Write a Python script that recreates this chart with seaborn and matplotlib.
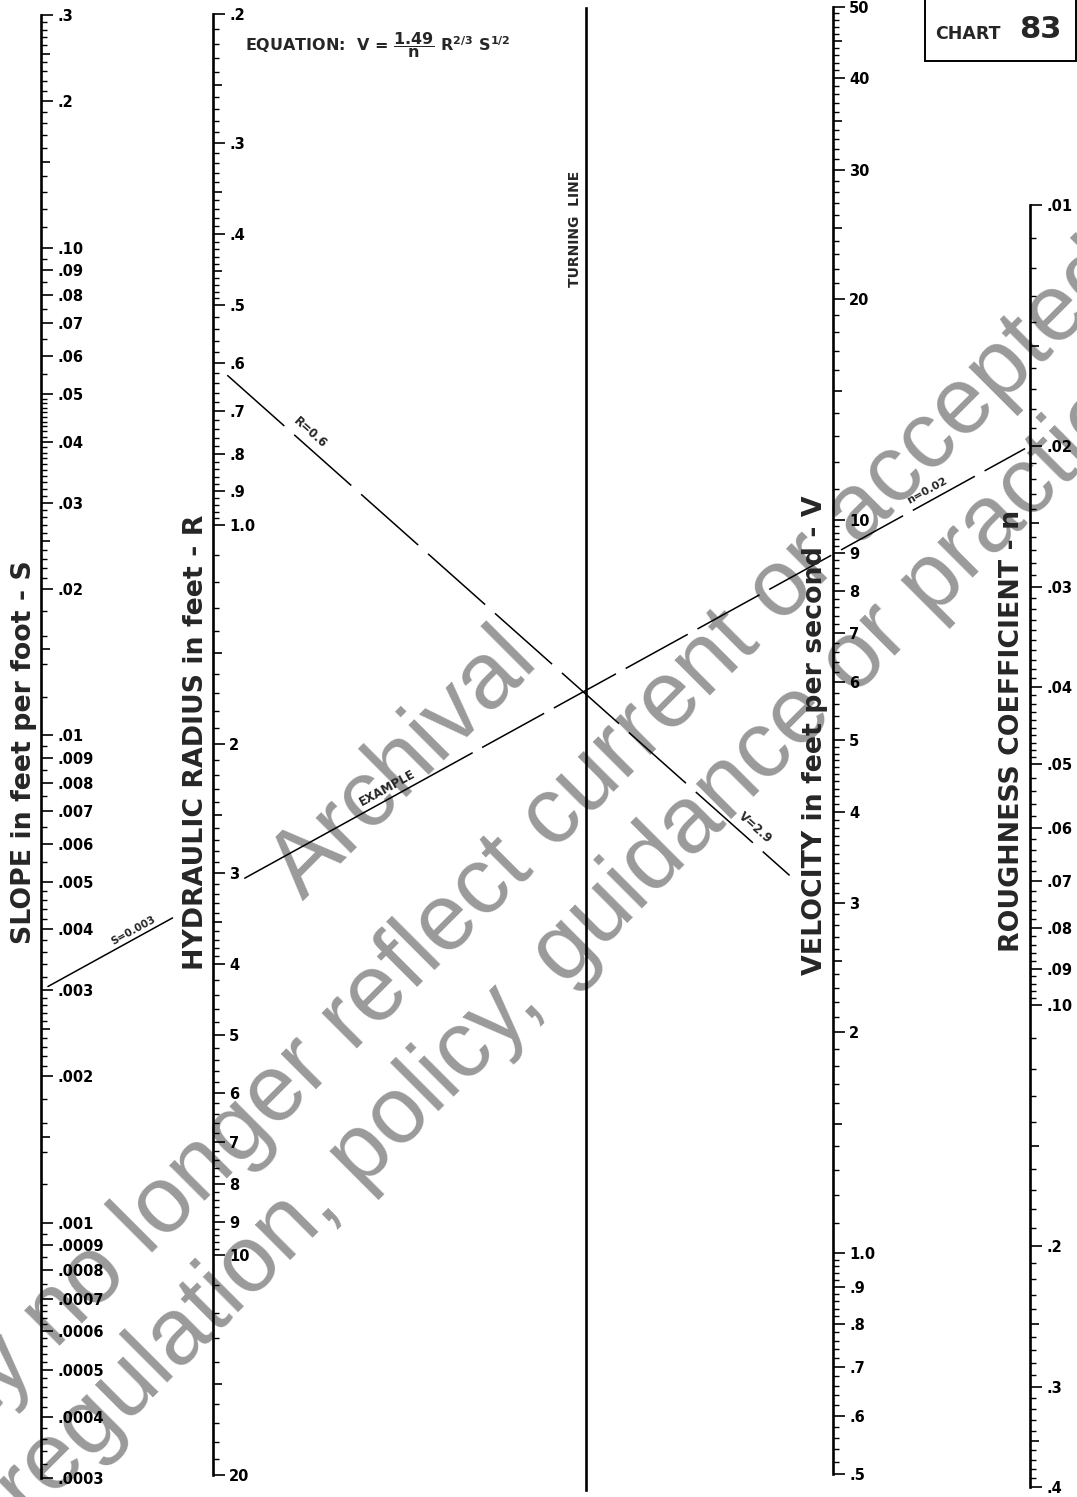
import numpy as np
import matplotlib
matplotlib.use("Agg")
import matplotlib.pyplot as plt
import matplotlib.transforms as mtransforms
from matplotlib.patches import Rectangle
from matplotlib.ticker import NullFormatter
import seaborn as sns

W, H = 1077, 1497

# ---- scale values ------------------------------------------------------
slope_values = [.3, .2, .1, .09, .08, .07, .06, .05, .04, .03, .02, .01,
                .009, .008, .007, .006, .005, .004, .003, .002,
                .001, .0009, .0008, .0007, .0006, .0005, .0004, .0003]
slope_labels = [".3", ".2", ".10", ".09", ".08", ".07", ".06", ".05", ".04", ".03", ".02", ".01",
                ".009", ".008", ".007", ".006", ".005", ".004", ".003", ".002",
                ".001", ".0009", ".0008", ".0007", ".0006", ".0005", ".0004", ".0003"]
slope_mid = [.25, .15, .025, .015, .0025, .0015]
slope_minor = [(.1, .3, .01), (.05, .1, .005), (.02, .05, .001), (.01, .02, .002),
               (.005, .01, .0005), (.003, .005, .0002), (.002, .003, .0001),
               (.001, .002, .0002), (.0007, .001, .00005), (.0003, .0007, .00002)]

radius_values = [.2, .3, .4, .5, .6, .7, .8, .9, 1, 2, 3, 4, 5, 6, 7, 8, 9, 10, 20]
radius_labels = [".2", ".3", ".4", ".5", ".6", ".7", ".8", ".9", "1.0",
                 "2", "3", "4", "5", "6", "7", "8", "9", "10", "20"]
radius_mid = [.25, .35, .45, 1.5, 2.5, 3.5, 15]
radius_minor = [(.2, .5, .01), (.5, 1, .02), (1, 3, .1), (3, 4, .1), (4, 10, .2), (10, 20, 1)]

velocity_values = [50, 40, 30, 20, 10, 9, 8, 7, 6, 5, 4, 3, 2, 1, .9, .8, .7, .6, .5]
velocity_labels = ["50", "40", "30", "20", "10", "9", "8", "7", "6", "5", "4", "3", "2",
                   "1.0", ".9", ".8", ".7", ".6", ".5"]
velocity_mid = [45, 35, 25, 15, 2.5, 1.5]
velocity_minor = [(20, 50, 1), (10, 20, 1), (5, 10, .2), (2, 5, .1), (1, 2, .1), (.5, 1, .02)]

rough_values = [.01, .02, .03, .04, .05, .06, .07, .08, .09, .1, .2, .3, .4]
rough_labels = [".01", ".02", ".03", ".04", ".05", ".06", ".07", ".08", ".09", ".10",
                ".2", ".3", ".4"]
rough_mid = [.015, .025, .15, .25, .35]
rough_minor = [(.01, .05, .001), (.05, .1, .002), (.1, .4, .01)]

# worked example
example_S = 0.003
example_n = 0.02
example_R = 0.6
example_V = 2.9

# ---- figure ------------------------------------------------------------
sns.set_theme(style="white")
plt.rcParams["font.family"] = ["DejaVu Sans"]
plt.rcParams["font.weight"] = "bold"
plt.rcParams["mathtext.fontset"] = "dejavusans"
plt.rcParams["mathtext.default"] = "bf"
plt.rcParams["lines.scale_dashes"] = False

fig = plt.figure(figsize=(W / 100, H / 100), dpi=100, facecolor="white")

# pixel canvas for free-standing lines and text
ax0 = fig.add_axes([0, 0, 1, 1])
ax0.set_xlim(0, W)
ax0.set_ylim(H, 0)
ax0.axis("off")


def make_scale(x, y_top, y_bot, lim, values=None, labels=None, mids=(), minor_segs=()):
    ax = fig.add_axes([(x - 1) / W, 1 - y_bot / H, 1 / W, (y_bot - y_top) / H])
    ax.patch.set_alpha(0)
    ax.set_yscale("log")
    ax.set_xlim(0, 1)
    ax.set_ylim(*lim)
    for s in ["left", "top", "bottom"]:
        ax.spines[s].set_visible(False)
    ax.spines["right"].set_linewidth(1.9)
    ax.spines["right"].set_color("black")
    ax.set_xticks([])
    ax.yaxis.tick_right()
    if values is None:
        ax.set_yticks([])
        ax.set_yticks([], minor=True)
        return ax
    ax.set_yticks(list(values) + list(mids), labels=list(labels) + [""] * len(mids))
    minor = np.concatenate([np.arange(a, b, s) for a, b, s in minor_segs])
    ax.set_yticks(minor, minor=True)
    ax.yaxis.set_minor_formatter(NullFormatter())
    ax.tick_params(axis="y", which="major", length=8.6, width=1.2, pad=3,
                   labelsize=10.5, colors="black")
    ax.tick_params(axis="y", which="minor", length=4.3, width=1.0, colors="black")
    for t in ax.yaxis.get_major_ticks()[len(values):]:
        t.tick2line.set_markersize(6.5)
    return ax


ax_s = make_scale(41, 15, 1478, (.0003, .3), slope_values, slope_labels, slope_mid, slope_minor)
ax_r = make_scale(213, 14, 1475, (20, .2), radius_values, radius_labels, radius_mid, radius_minor)
ax_t = make_scale(586, 8, 1490, (1, 10))
ax_v = make_scale(833, 7, 1474, (.5, 50), velocity_values, velocity_labels, velocity_mid, velocity_minor)
ax_n = make_scale(1030, 205, 1487, (.4, .01), rough_values, rough_labels, rough_mid, rough_minor)


def point(ax, value):
    tr = mtransforms.blended_transform_factory(ax.transAxes, ax.transData)
    disp = tr.transform((1, value))
    return ax0.transData.inverted().transform(disp)


def draw_part(p, q, t0, t1, ls):
    a = p + (q - p) * t0
    b = p + (q - p) * t1
    sns.lineplot(x=[a[0], b[0]], y=[a[1], b[1]], ax=ax0, color="black",
                 lw=1.1, linestyle=ls, sort=False, zorder=3)


def line_label(p, q, t, off, text, size):
    d = (q - p) / np.hypot(*(q - p))
    c = p + (q - p) * t + np.array([d[1], -d[0]]) * off
    ang = np.degrees(np.arctan2(-d[1], d[0]))
    ax0.text(c[0], c[1], text, rotation=ang, rotation_mode="anchor",
             ha="center", va="center", fontsize=size, zorder=3)


# S - n line through the turning line
pS = point(ax_s, example_S)
pN = point(ax_n, example_n)
dash_a = (0, (51, 8))
draw_part(pS, pN, 0.007, 0.133, "-")
draw_part(pS, pN, 0.206, 0.436, "-")
draw_part(pS, pN, 0.446, 0.995, dash_a)
line_label(pS, pN, 0.097, 8, "S=0.003", 7.5)
line_label(pS, pN, 0.355, 10, "EXAMPLE", 8.5)
line_label(pS, pN, 0.901, 10, "n=0.02", 8)

# R - V line through the turning point
pR = point(ax_r, example_R)
pV = point(ax_v, example_V)
dash_b = (0, (55, 9.5))
draw_part(pR, pV, 0.023, 0.93, dash_b)
line_label(pR, pV, 0.1435, 12, "R=0.6", 8.5)
line_label(pR, pV, 0.861, 13, "V=2.9", 8.5)

# scale titles
titles = [("SLOPE in feet per foot - S", 24, 752),
          ("HYDRAULIC RADIUS in feet - R", 196, 742),
          ("VELOCITY in feet per second - V", 815, 735),
          ("ROUGHNESS COEFFICIENT - n", 1012, 731)]
for txt, x, y in titles:
    ax0.text(x, y, txt, rotation=90, ha="center", va="center", fontsize=19.3, zorder=3)
ax0.text(575, 229, "TURNING  LINE", rotation=90, ha="center", va="center", fontsize=10, zorder=3)

# equation and chart number
ax0.text(245, 45, r"EQUATION:  V = $\dfrac{1.49}{n}$ R$^{2/3}$ S$^{1/2}$",
         ha="left", va="center", fontsize=11.5, zorder=3)
ax0.add_patch(Rectangle((925, -10), 151, 71, fill=False, lw=1.4, ec="black", clip_on=False))
ax0.text(935, 39, "CHART", ha="left", va="baseline", fontsize=12.5, zorder=3)
ax0.text(1019, 38, "83", ha="left", va="baseline", fontsize=22, zorder=3)

# archival watermark
marks = [("Archival", 422, 782),
         ("may no longer reflect current or accepted", 520, 885),
         ("regulation, policy, guidance or practice", 598, 953)]
for txt, x, y in marks:
    ax0.text(x, y, txt, rotation=45, rotation_mode="anchor", ha="center", va="baseline",
             fontsize=68, color="#9a9a9a", family="Liberation Sans", fontweight="normal",
             zorder=0.5)

fig.savefig("out.png", dpi=100)
